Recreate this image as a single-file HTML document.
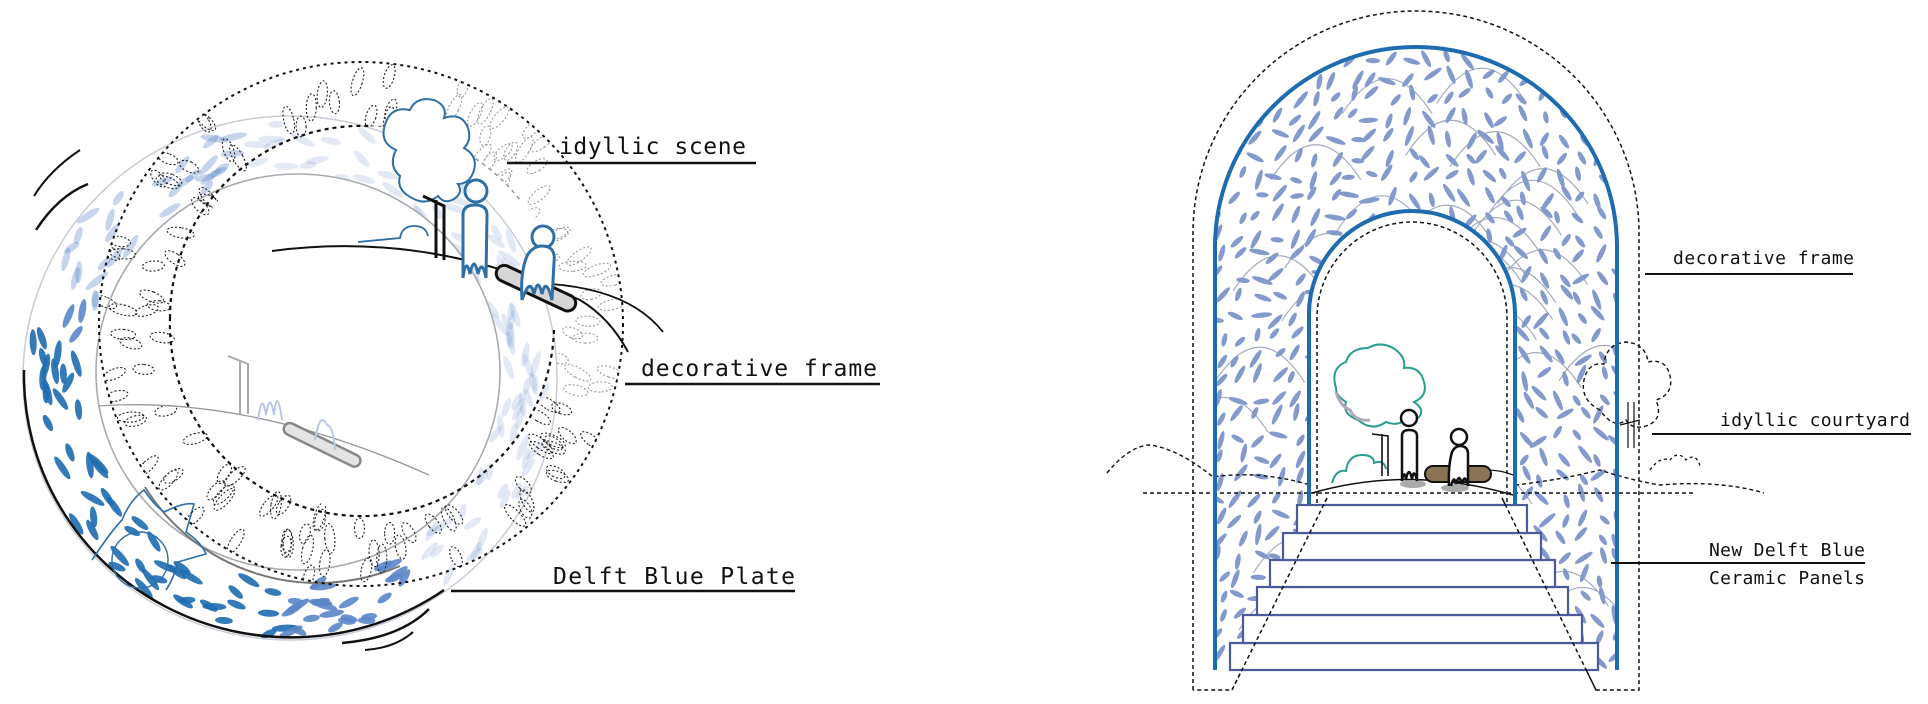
<!DOCTYPE html>
<html><head><meta charset="utf-8">
<style>
html,body{margin:0;padding:0;background:#fff;}
svg{display:block;}
text{font-family:"DejaVu Sans Mono","Liberation Mono",monospace;fill:#111;}
</style></head>
<body>
<svg id="s" width="1928" height="704" viewBox="0 0 1928 704" xmlns="http://www.w3.org/2000/svg">
<defs>
  <clipPath id="archRing"><path clip-rule="evenodd" d="M1215,670 L1215,247 A201,200 0 0 1 1617,247 L1617,670 Z M1309,504 L1309,314 A103,103 0 0 1 1515,314 L1515,504 Z"/></clipPath>
  <clipPath id="plateRing"><path clip-rule="evenodd" d="M23,378 a267,262 0 1 0 534,0 a267,262 0 1 0 -534,0 Z M96,372 a202,198 0 1 0 404,0 a202,198 0 1 0 -404,0 Z"/></clipPath>
  <clipPath id="frameRing"><path clip-rule="evenodd" d="M99,324 a262,262 0 1 0 524,0 a262,262 0 1 0 -524,0 Z M178,318 a192,192 0 1 0 384,0 a192,192 0 1 0 -384,0 Z"/></clipPath>
</defs>

<!-- ============ LEFT: PLATE ============ -->
<g id="plateLeaves" clip-path="url(#plateRing)"></g>
<ellipse cx="290" cy="378" rx="267" ry="262" fill="none" stroke="#c9ccd6" stroke-width="1.5"/>
<path d="M24,370 A267,262 0 0 0 444,590" fill="none" stroke="#111" stroke-width="2.5"/>
<ellipse cx="298" cy="372" rx="202" ry="198" fill="none" stroke="#a8aab0" stroke-width="1.6"/>
<path d="M145,487 A202,198 0 0 0 400,566" fill="none" stroke="#777" stroke-width="2"/>
<path d="M92,560 q20,-30 30,-40 q8,-20 22,-30 q10,15 20,22 q20,-10 30,-8 q-5,18 -8,28 q15,10 20,22 q-18,5 -28,8 q-5,18 -12,28" fill="none" stroke="#2f6fa6" stroke-width="1.6"/>
<circle cx="140" cy="560" r="28" fill="none" stroke="#2f6fa6" stroke-width="1.4"/>

<!-- dotted frame -->
<g id="frameDots" clip-path="url(#frameRing)"></g>
<circle cx="361" cy="324" r="262" fill="none" stroke="#111" stroke-width="2" stroke-dasharray="3,4"/>
<path d="M170,318 A192,192 0 0 1 370,126" fill="none" stroke="#111" stroke-width="2.2" stroke-dasharray="4,4"/>
<path d="M370,126 A192,192 0 0 1 520,200" fill="none" stroke="#999" stroke-width="1.5" stroke-dasharray="4,4"/>
<path d="M554,330 A192,192 0 0 1 170,318" fill="none" stroke="#111" stroke-width="2.2" stroke-dasharray="4,4"/>

<!-- ghost scene -->
<path d="M98,406 Q250,395 429,475" fill="none" stroke="#999" stroke-width="1.3"/>
<path d="M228,356 L248,364 L248,414 M240,360 L240,414" fill="none" stroke="#aaa" stroke-width="2"/>
<g transform="translate(287,421) rotate(26)"><rect x="0" y="0" width="84" height="12" rx="6" fill="#e4e4e4" stroke="#888" stroke-width="2.5"/></g>
<path d="M258,420 q4,-30 8,-5 q4,-25 8,0 q3,-30 8,5 M315,440 q5,-30 12,-15 q6,0 8,25" fill="none" stroke="#b8c6e6" stroke-width="2"/>

<!-- ground lines -->
<path d="M272,251 Q430,230 580,300 Q610,318 628,352" fill="none" stroke="#111" stroke-width="2"/>
<path d="M551,284 Q630,290 663,332" fill="none" stroke="#111" stroke-width="1.8"/>

<!-- idyllic scene -->
<path d="M396,150 q-18,-8 -10,-28 q6,-16 24,-12 q6,-14 24,-10 q14,6 10,18 q18,-6 24,10 q4,12 -4,20 q14,8 10,22 q-4,14 -16,14 q6,10 -6,16 q-8,4 -14,-4 q-12,10 -26,2 q-16,-8 -12,-22 q-12,-10 -4,-26 Z" fill="#fff" stroke="#2f6fa6" stroke-width="2"/>
<path d="M358,242 L400,238 q2,-12 14,-12 q12,0 14,10" fill="none" stroke="#2f6fa6" stroke-width="1.8"/>
<path d="M423,196 L444,206 L444,260 M436,200 L436,258" fill="none" stroke="#111" stroke-width="3"/>
<circle cx="476" cy="191" r="11" fill="#fff" stroke="#2f6fa6" stroke-width="3"/>
<path d="M463,278 L463,215 q0,-10 12,-10 q12,0 12,10 L486,278 q-4,-20 -8,-4 q-4,-20 -8,0 q-4,-18 -7,4" fill="#fff" stroke="#2f6fa6" stroke-width="3"/>
<g transform="translate(497,270) rotate(25)"><rect x="0" y="-8" width="86" height="16" rx="8" fill="#d6d6d6" stroke="#111" stroke-width="3"/></g>
<circle cx="543" cy="237" r="11" fill="#fff" stroke="#2f6fa6" stroke-width="3"/>
<path d="M522,300 q-2,-30 6,-46 q6,-8 14,-8 q14,0 12,16 L552,300 q-6,-24 -10,-6 q-4,-18 -8,0 q-4,-18 -12,6" fill="#fff" stroke="#2f6fa6" stroke-width="3"/>

<!-- swoosh marks -->
<path d="M34,196 Q50,170 80,150" fill="none" stroke="#111" stroke-width="2"/>
<path d="M36,230 Q58,196 88,184" fill="none" stroke="#111" stroke-width="2.5"/>
<path d="M342,643 Q400,638 429,609" fill="none" stroke="#111" stroke-width="2.5"/>
<path d="M365,650 Q395,648 413,632" fill="none" stroke="#111" stroke-width="2"/>

<!-- left labels -->
<text x="559" y="154" font-size="23" textLength="187">idyllic scene</text>
<line x1="507" y1="163" x2="756" y2="163" stroke="#111" stroke-width="2.5"/>
<text x="641" y="376" font-size="23" textLength="236">decorative frame</text>
<line x1="625" y1="384" x2="880" y2="384" stroke="#111" stroke-width="2.5"/>
<text x="553" y="584" font-size="23" textLength="242">Delft Blue Plate</text>
<line x1="451" y1="591" x2="795" y2="591" stroke="#111" stroke-width="2.5"/>

<!-- ============ RIGHT: ARCH ============ -->
<g id="archLeaves" clip-path="url(#archRing)"></g>
<path d="M1193,690 L1193,233 A223,222 0 0 1 1639,233 L1639,690 L1596,690 L1502,498 M1327,498 L1232,690 L1193,690" fill="none" stroke="#111" stroke-width="1.5" stroke-dasharray="4,3"/>
<path d="M1107,473 Q1130,445 1151,445 Q1180,450 1213,477 Q1260,470 1310,485" fill="none" stroke="#111" stroke-width="1.4" stroke-dasharray="4,3"/>
<path d="M1515,485 Q1560,480 1600,470 Q1630,480 1660,485 Q1720,480 1764,493" fill="none" stroke="#111" stroke-width="1.4" stroke-dasharray="4,3"/>
<path d="M1600,410 q-20,-10 -16,-30 q4,-18 20,-16 q2,-20 22,-22 q20,2 22,20 q18,-4 22,14 q4,18 -14,24 q8,20 -10,26 q-14,4 -20,-6 q-12,10 -26,-10" fill="none" stroke="#111" stroke-width="1.4" stroke-dasharray="4,3"/>
<path d="M1628,402 L1628,448 M1634,402 L1634,448 M1620,425 L1640,420" fill="none" stroke="#111" stroke-width="1.2"/>
<path d="M1650,470 q10,-14 20,-10 q8,-10 16,0 q10,-8 14,6" fill="none" stroke="#111" stroke-width="1.3" stroke-dasharray="3,3"/>
<line x1="1143" y1="493" x2="1694" y2="493" stroke="#111" stroke-width="1.5" stroke-dasharray="4,3"/>
<path d="M1215,670 L1215,247 A201,200 0 0 1 1617,247 L1617,670" fill="none" stroke="#1f6bb0" stroke-width="4"/>
<path d="M1309,504 L1309,314 A103,103 0 0 1 1515,314 L1515,504" fill="none" stroke="#1f6bb0" stroke-width="4"/>
<path d="M1317,503 L1317,318 A95,96 0 0 1 1507,318 L1507,503" fill="none" stroke="#111" stroke-width="1.5" stroke-dasharray="4,3"/>
<path d="M1312,493 Q1410,465 1513,495" fill="none" stroke="#111" stroke-width="1.5"/>
<path d="M1450,475 Q1490,465 1513,475" fill="none" stroke="#111" stroke-width="1.3"/>
<path d="M1336,388 q-6,-20 10,-26 q4,-14 22,-14 q14,-8 28,2 q10,8 8,18 q16,-2 20,14 q4,14 -10,20 q12,8 4,16 q-8,4 -10,-4 q-6,14 -22,8 q-14,10 -28,-2 q-16,-6 -12,-18 q-10,-6 -10,-14 Z" fill="#fff" stroke="#2a9d8f" stroke-width="2"/>
<path d="M1336,392 q4,14 14,18 q6,12 20,10" fill="none" stroke="#b0a8b8" stroke-width="3"/>
<path d="M1332,483 q4,-14 14,-12 q2,-16 16,-16 q12,0 12,8 q10,-4 12,6" fill="none" stroke="#2a9d8f" stroke-width="2"/>
<path d="M1372,434 L1388,436 L1388,476 M1382,434 L1382,476" fill="none" stroke="#111" stroke-width="1.6"/>
<ellipse cx="1413" cy="484" rx="13" ry="4" fill="#aaa"/>
<ellipse cx="1455" cy="488" rx="14" ry="4" fill="#aaa"/>
<circle cx="1409" cy="418" r="8" fill="#fff" stroke="#111" stroke-width="2.5"/>
<path d="M1402,481 L1402,436 q0,-6 7,-6 q8,0 8,6 L1417,481 q-3,-14 -5,-2 q-3,-14 -6,0 q-2,-10 -4,2" fill="#fff" stroke="#111" stroke-width="2.5"/>
<rect x="1425" y="466" width="66" height="16" rx="8" fill="#8b7355" stroke="#111" stroke-width="2"/>
<circle cx="1459" cy="437" r="8" fill="#fff" stroke="#111" stroke-width="2.5"/>
<path d="M1449,486 q-1,-20 3,-34 q3,-6 8,-6 q8,0 8,8 L1468,486 q-3,-14 -6,-2 q-3,-12 -6,0 q-2,-10 -5,2" fill="#fff" stroke="#111" stroke-width="2.5"/>
<g fill="#fff" stroke="#4a5a9a" stroke-width="2.2">
  <rect x="1230" y="643" width="368" height="27"/>
  <rect x="1243" y="615" width="339" height="28"/>
  <rect x="1257" y="587" width="311" height="28"/>
  <rect x="1270" y="560" width="285" height="27"/>
  <rect x="1283" y="533" width="258" height="27"/>
  <rect x="1297" y="505" width="230" height="28"/>
</g>
<path d="M1232,690 L1327,498 M1596,690 L1502,498" fill="none" stroke="#111" stroke-width="1.5" stroke-dasharray="4,3"/>

<text x="1673" y="264" font-size="18" textLength="181">decorative frame</text>
<line x1="1645" y1="274" x2="1853" y2="274" stroke="#111" stroke-width="2"/>
<text x="1720" y="426" font-size="18" textLength="190">idyllic courtyard</text>
<line x1="1652" y1="434" x2="1911" y2="434" stroke="#111" stroke-width="2"/>
<text x="1709" y="556" font-size="18" textLength="156">New Delft Blue</text>
<line x1="1611" y1="563" x2="1865" y2="563" stroke="#111" stroke-width="2"/>
<text x="1709" y="584" font-size="18" textLength="156">Ceramic Panels</text>
</svg>
<script>
(function(){
var seed=12345;function r(){seed=(seed*1103515245+12345)%2147483648;return seed/2147483648;}
var NS="http://www.w3.org/2000/svg";
function el(p,t,a){var e=document.createElementNS(NS,t);for(var k in a)e.setAttribute(k,a[k]);p.appendChild(e);return e;}
var g=document.getElementById("archLeaves");
for(var i=0;i<40;i++){var x=1215+r()*400,y=60+r()*600;
 el(g,"path",{d:"M"+(x-45)+","+(y+40)+" Q"+x+","+(y-30)+" "+(x+45)+","+(y+40),fill:"none",stroke:"#a4aabf","stroke-width":1.2});}
for(var y=52;y<670;y+=20){for(var x=1215;x<1620;x+=19){
 var cx=x+r()*10,cy=y+r()*10;var a=(cx<1412?1:-1)*(10+r()*40)+(r()<0.25?70:0);
 el(g,"ellipse",{cx:cx.toFixed(1),cy:cy.toFixed(1),rx:2.6,ry:(6+r()*5).toFixed(1),fill:"#8499cc",transform:"rotate("+a.toFixed(0)+" "+cx.toFixed(1)+" "+cy.toFixed(1)+")"});}}
var p=document.getElementById("plateLeaves");
for(var k=0;k<200;k++){var t=r()*Math.PI*2,rr=0.78+r()*0.2;
 var cx=290+Math.cos(t)*267*rr,cy=378+Math.sin(t)*262*rr;
 var deg=t*180/Math.PI;var dark=(deg>60&&deg<200);var op=dark?0.9:(deg>200&&deg<260?0.35:0.18);
 var col=(deg>90&&deg<190)?"#1f6bb0":"#5c86c8";
 el(p,"ellipse",{cx:cx.toFixed(1),cy:cy.toFixed(1),rx:3.5,ry:(8+r()*6).toFixed(1),fill:col,"fill-opacity":op,transform:"rotate("+(deg+(r()-0.5)*60).toFixed(0)+" "+cx.toFixed(1)+" "+cy.toFixed(1)+")"});}
var f=document.getElementById("frameDots");
for(var k=0;k<130;k++){var t=r()*Math.PI*2,rr=195+r()*65;
 var cx=361+Math.cos(t)*rr,cy=324+Math.sin(t)*rr;var deg=t*180/Math.PI;
 var gray=(deg>-90&&deg<20)||deg>290;
 el(f,"ellipse",{cx:cx.toFixed(1),cy:cy.toFixed(1),rx:5,ry:(10+r()*5).toFixed(1),fill:"none",stroke:gray?"#999":"#222","stroke-width":1.1,"stroke-dasharray":"2,2",transform:"rotate("+(deg+90+(r()-0.5)*40).toFixed(0)+" "+cx.toFixed(1)+" "+cy.toFixed(1)+")"});}
})();
</script>
</body></html>
